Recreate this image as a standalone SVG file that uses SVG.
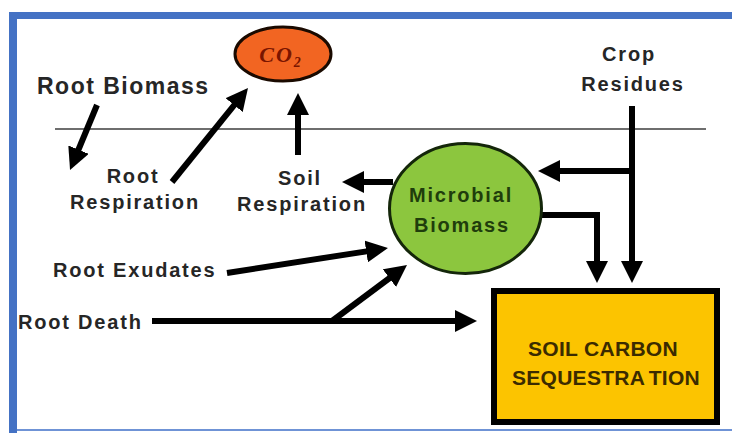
<svg xmlns="http://www.w3.org/2000/svg" width="732" height="433" viewBox="0 0 732 433">
<style>
.lbl{font-family:"Liberation Sans",Arial,sans-serif;font-weight:bold;font-size:20px;letter-spacing:1.8px;fill:#262626}
.big{font-size:23px;letter-spacing:1.5px}
.mid{text-anchor:middle}
.con{stroke:#000;stroke-width:6;fill:none}
.mb{fill:#1f3d0c}
.box{font-size:21px;letter-spacing:0.3px;fill:#3b2b00}
</style>
<defs>
<marker id="ah" viewBox="0 0 22 22" refX="2" refY="11" markerWidth="22" markerHeight="22" markerUnits="userSpaceOnUse" orient="auto">
<path d="M0,0 L22,11 L0,22 z" fill="#000"/>
</marker>
</defs>
<rect x="0" y="0" width="732" height="433" fill="#fff"/>
<g id="frame">
<rect x="9" y="12" width="723" height="7" fill="#4472c4"/>
<rect x="9" y="12" width="8" height="421" fill="#4472c4"/>
<rect x="17" y="429" width="715" height="2" fill="#6f93d6"/>
</g>
<line id="ground" x1="55" y1="129" x2="706" y2="129" stroke="#6e6e6e" stroke-width="2"/>
<g id="connectors">
<line class="con" x1="97" y1="105" x2="77.7" y2="151.5" stroke-width="5" marker-end="url(#ah)"/>
<line class="con" x1="172" y1="182" x2="235.4" y2="103.6" marker-end="url(#ah)"/>
<line class="con" x1="298" y1="155" x2="298" y2="113" marker-end="url(#ah)"/>
<line class="con" x1="393" y1="182" x2="362" y2="182" marker-end="url(#ah)"/>
<line class="con" x1="632" y1="106" x2="632" y2="263" marker-end="url(#ah)"/>
<line class="con" x1="635" y1="171" x2="558" y2="171" marker-end="url(#ah)"/>
<path class="con" d="M540,215 H597 V263" marker-end="url(#ah)"/>
<line class="con" x1="227" y1="273" x2="368.2" y2="251.1" stroke-width="5" marker-end="url(#ah)"/>
<line class="con" x1="152" y1="321" x2="457" y2="321" marker-end="url(#ah)"/>
<line class="con" x1="332" y1="321" x2="391" y2="277" marker-end="url(#ah)"/>
</g>
<g id="co2">
<ellipse cx="283" cy="54" rx="48" ry="27" fill="#f26522" stroke="#1a0a00" stroke-width="3"/>
<text x="281" y="62" text-anchor="middle" font-family="'Liberation Serif','Times New Roman',serif" font-weight="bold" font-style="italic" font-size="22" letter-spacing="2" fill="#7a1500">CO<tspan font-size="14" dy="5">2</tspan></text>
</g>
<g id="root-biomass"><text class="lbl big" x="37" y="94">Root Biomass</text></g>
<g id="root-respiration"><text class="lbl mid" x="133" y="183">Root</text><text class="lbl mid" x="135" y="209">Respiration</text></g>
<g id="soil-respiration"><text class="lbl mid" x="300" y="185">Soil</text><text class="lbl mid" x="302" y="211">Respiration</text></g>
<g id="crop-residues"><text class="lbl mid" x="629" y="61">Crop</text><text class="lbl mid" x="633" y="91">Residues</text></g>
<g id="microbial-biomass">
<ellipse cx="465.5" cy="208.5" rx="76" ry="65" fill="#8cc63e" stroke="#14260a" stroke-width="3"/>
<text class="lbl mid mb" x="461" y="202">Microbial</text><text class="lbl mid mb" x="462" y="232">Biomass</text>
</g>
<g id="root-exudates"><text class="lbl" x="53" y="277">Root Exudates</text></g>
<g id="root-death"><text class="lbl" x="18" y="329">Root Death</text></g>
<g id="soil-carbon">
<rect x="494" y="291" width="223" height="131" fill="#fcc400" stroke="#000" stroke-width="6"/>
<text class="lbl mid box" x="603" y="356">SOIL CARBON</text>
<text class="lbl mid box" x="606" y="385">SEQUESTRA<tspan dx="5">TION</tspan></text>
</g>
</svg>
